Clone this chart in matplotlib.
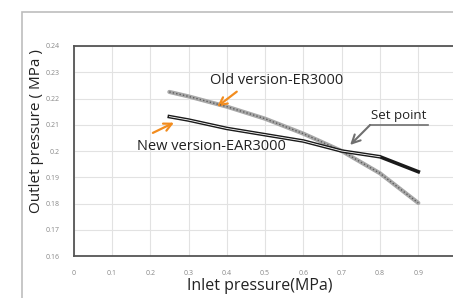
import matplotlib.pyplot as plt
from matplotlib.patches import Rectangle

# --- datos ---
inlet = [0.25, 0.3, 0.4, 0.5, 0.6, 0.7, 0.8, 0.9]
old_er3000 = [0.2225, 0.2208, 0.2169, 0.2123, 0.2066, 0.2000, 0.1915, 0.1802]
new_ear3000 = [0.2131, 0.2118, 0.2086, 0.2062, 0.2038, 0.2000, 0.1978, 0.1921]
xticks = [0, 0.1, 0.2, 0.3, 0.4, 0.5, 0.6, 0.7, 0.8, 0.9]
yticks = [0.16, 0.17, 0.18, 0.19, 0.2, 0.21, 0.22, 0.23, 0.24]

plt.rcParams['font.family'] = ['Open Sans', 'DejaVu Sans']

fig = plt.figure(figsize=(4.53, 2.98), dpi=100)
fig.patches.append(Rectangle((22 / 453, -0.1), 1.0, (298 - 12) / 298 + 0.1,
                             transform=fig.transFigure, fill=False,
                             edgecolor='#bdbdbd', lw=1.2))

ax = fig.add_axes([73.6 / 453, 42 / 298, 1 - 73.6 / 453, 210 / 298])
ax.set_xlim(0, 0.9906)
ax.set_ylim(0.16, 0.24)

# old version: gray textured line
ax.plot(inlet, old_er3000, color='#a8a8a8', lw=3.0, solid_capstyle='round', zorder=3)
ax.plot(inlet, old_er3000, color='#5e5e5e', lw=1.0, ls=(0, (1, 1.5)), zorder=4)

# new version: double black line
ax.plot(inlet, new_ear3000, color='#1a1a1a', lw=2.6, zorder=5)
ax.plot(inlet[:7], new_ear3000[:7], color='white', lw=0.6, zorder=6)

ax.set_xticks(xticks)
ax.set_xticklabels([f'{v:g}' for v in xticks])
ax.set_yticks(yticks)
ax.set_yticklabels([f'{v:g}' for v in yticks])
ax.tick_params(labelsize=5, colors='#888888', length=0, pad=10)
ax.grid(color='#e2e2e2', lw=0.8)
ax.set_axisbelow(True)
for s in ['left', 'bottom', 'top']:
    ax.spines[s].set_color('#555555')
    ax.spines[s].set_linewidth(1.3)
ax.spines['right'].set_visible(False)

ax.set_xlabel('Inlet pressure(MPa)', fontsize=11.5, color='#222222')
ax.xaxis.set_label_coords(0.49, -0.105)
ax.set_ylabel('Outlet pressure ( MPa )', fontsize=11, color='#222222')
ax.yaxis.set_label_coords(-0.078, 0.595)

# anotaciones
orange = dict(arrowstyle='->', color='#f28c1e', lw=1.6, mutation_scale=14,
              shrinkA=0, shrinkB=0)
ax.text(0.531, 0.2270, 'Old version-ER3000', fontsize=10.5, color='#222222',
        ha='center', va='center')
ax.annotate('', xy=(0.375, 0.2169), xytext=(0.426, 0.2226), arrowprops=orange)
ax.text(0.359, 0.2019, 'New version-EAR3000', fontsize=10.5, color='#222222',
        ha='center', va='center')
ax.annotate('', xy=(0.262, 0.2108), xytext=(0.207, 0.2069), arrowprops=orange)
ax.text(0.848, 0.2137, 'Set point', fontsize=9.5, color='#222222',
        ha='center', va='center')
ax.plot([0.774, 0.925], [0.2099, 0.2099], color='#6f6f6f', lw=1.2)
ax.annotate('', xy=(0.722, 0.2023), xytext=(0.774, 0.2099),
            arrowprops=dict(arrowstyle='->', color='#6f6f6f', lw=1.5,
                            mutation_scale=15, shrinkA=0, shrinkB=0))

plt.savefig('out.png', dpi=100)
